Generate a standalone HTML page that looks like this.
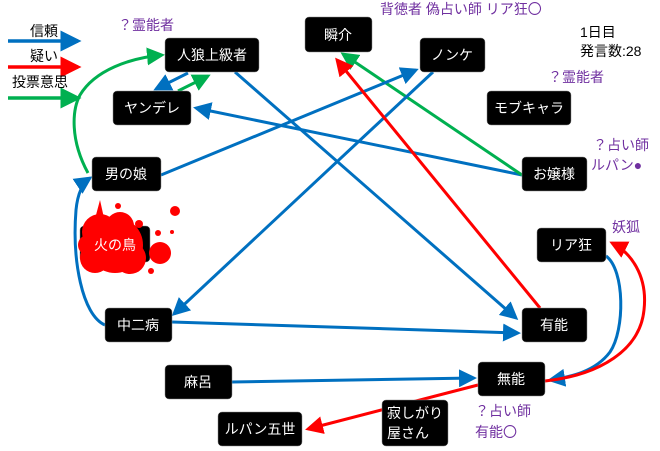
<!DOCTYPE html><html><head><meta charset="utf-8"><style>
body{margin:0;width:660px;height:451px;background:#fff;overflow:hidden;font-family:"Liberation Sans","Noto Sans CJK JP",sans-serif}
</style></head><body>
<svg width="660" height="451" xmlns="http://www.w3.org/2000/svg" style="position:absolute;left:0;top:0">
<defs>
<marker id="b" markerWidth="6" markerHeight="6" refX="5" refY="3" orient="auto" markerUnits="strokeWidth"><path d="M0,0L6,3L0,6z" fill="#0070c0"/></marker>
<marker id="r" markerWidth="6" markerHeight="6" refX="5" refY="3" orient="auto" markerUnits="strokeWidth"><path d="M0,0L6,3L0,6z" fill="#ff0000"/></marker>
<marker id="g" markerWidth="6" markerHeight="6" refX="5" refY="3" orient="auto" markerUnits="strokeWidth"><path d="M0,0L6,3L0,6z" fill="#00b050"/></marker>
</defs>
<g fill="none" stroke-width="3.5">
<line x1="8" y1="41" x2="78" y2="41" stroke="#0070c0" marker-end="url(#b)"/>
<line x1="8" y1="67" x2="78" y2="67" stroke="#ff0000" marker-end="url(#r)"/>
<line x1="8" y1="98" x2="78" y2="98" stroke="#00b050" marker-end="url(#g)"/>
</g>
<g fill="none" stroke-width="3">
<path d="M88,173 C70,140 72,110 80,95 C95,70 130,58 162,55" stroke="#00b050" marker-end="url(#g)"/>
<line x1="188" y1="73" x2="156" y2="89" stroke="#0070c0" marker-end="url(#b)"/>
<line x1="178" y1="91" x2="208" y2="76" stroke="#00b050" marker-end="url(#g)"/>
<line x1="235" y1="72" x2="516" y2="318" stroke="#0070c0" marker-end="url(#b)"/>
<line x1="522" y1="175" x2="196" y2="108" stroke="#0070c0" marker-end="url(#b)"/>
<line x1="522" y1="175" x2="343" y2="54" stroke="#00b050" marker-end="url(#g)"/>
<line x1="161" y1="175" x2="416" y2="70" stroke="#0070c0" marker-end="url(#b)"/>
<line x1="433" y1="72" x2="174" y2="314" stroke="#0070c0" marker-end="url(#b)"/>
<line x1="540" y1="308" x2="337" y2="60" stroke="#ff0000" marker-end="url(#r)"/>
<line x1="172" y1="322" x2="518" y2="333" stroke="#0070c0" marker-end="url(#b)"/>
<path d="M105,325 C82,315 72,260 76,210 C78,190 84,182 90,178" stroke="#0070c0" marker-end="url(#b)"/>
<line x1="232" y1="382" x2="474" y2="378" stroke="#0070c0" marker-end="url(#b)"/>
<path d="M606,256 C625,270 625,330 610,352 C595,372 570,377 550,380" stroke="#0070c0" marker-end="url(#b)"/>
<path d="M545,381 C600,375 640,350 644,310 C648,275 630,252 612,243" stroke="#ff0000" marker-end="url(#r)"/>
<line x1="478" y1="385" x2="308" y2="429" stroke="#ff0000" marker-end="url(#r)"/>
</g>
<g fill="#000" stroke="#888" stroke-width="0.5">
<rect x="165" y="38" width="94" height="34" rx="4"/>
<rect x="113" y="91" width="78" height="34" rx="4"/>
<rect x="92" y="157" width="69" height="34" rx="4"/>
<rect x="305" y="17" width="67" height="35" rx="4"/>
<rect x="420" y="38" width="65" height="34" rx="4"/>
<rect x="487" y="91" width="84" height="34" rx="4"/>
<rect x="522" y="157" width="65" height="34" rx="4"/>
<rect x="80" y="226" width="70" height="36" rx="4"/>
<rect x="537" y="228" width="69" height="34" rx="4"/>
<rect x="105" y="308" width="67" height="34" rx="4"/>
<rect x="522" y="308" width="65" height="34" rx="4"/>
<rect x="478" y="362" width="67" height="34" rx="4"/>
<rect x="165" y="365" width="67" height="34" rx="4"/>
<rect x="218" y="412" width="84" height="34" rx="4"/>
<rect x="382" y="400" width="66" height="46" rx="4"/>
</g>
<g fill="#ff0000">
<circle cx="115" cy="245" r="28"/><circle cx="100" cy="232" r="18"/><circle cx="130" cy="258" r="16"/>
<circle cx="95" cy="258" r="15"/><circle cx="88" cy="245" r="10"/><circle cx="120" cy="226" r="14"/>
<circle cx="160" cy="253" r="11"/><circle cx="139" cy="224" r="4"/>
<circle cx="158" cy="233" r="3"/><circle cx="175" cy="211" r="5"/><circle cx="151" cy="271" r="3"/>
<circle cx="118" cy="206" r="3"/><circle cx="172" cy="232" r="2"/><path d="M96,215 L100,200 L104,218z"/>
</g>
<g fill="#fff" font-size="14" text-anchor="middle">
<text x="212" y="60">人狼上級者</text><text x="152" y="113">ヤンデレ</text><text x="126" y="179">男の娘</text>
<text x="338" y="40">瞬介</text><text x="452" y="60">ノンケ</text><text x="529" y="113">モブキャラ</text>
<text x="554" y="179">お嬢様</text><text x="115" y="250">火の鳥</text><text x="571" y="250">リア狂</text>
<text x="138" y="330">中二病</text><text x="554" y="330">有能</text><text x="511" y="384">無能</text>
<text x="198" y="387">麻呂</text><text x="260" y="434">ルパン五世</text>
<text x="415" y="418">寂しがり</text><text x="408" y="438">屋さん</text>
</g>
<g font-size="14" fill="#7030a0">
<text x="118" y="30">？霊能者</text><text x="380" y="14">背徳者 偽占い師 リア狂〇</text>
<text x="548" y="82">？霊能者</text><text x="593" y="150">？占い師</text><text x="591" y="170">ルパン●</text>
<text x="612" y="232">妖狐</text><text x="475" y="416">？占い師</text><text x="475" y="437">有能〇</text>
</g>
<g font-size="14" fill="#000">
<text x="580" y="37">1日目</text><text x="580" y="56">発言数:28</text>
<text x="30" y="36">信頼</text><text x="30" y="61">疑い</text><text x="12" y="87">投票意思</text>
</g>
</svg>
</body></html>
